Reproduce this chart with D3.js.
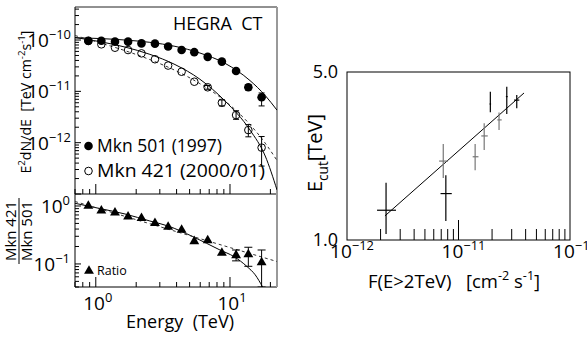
<!DOCTYPE html>
<html>
<head>
<meta charset="utf-8">
<script src="https://cdn.jsdelivr.net/npm/d3@7"></script>
<style>
  body { margin: 0; background: #fff; }
  svg { display: block; font-family: "Open Sans", "Noto Sans", sans-serif; }
  text { white-space: pre; }
</style>
</head>
<body>
<div id="chart"></div>
<script>
// ---- data ----
// energy bins, TeV
var energy = [0.88, 1.10, 1.39, 1.74, 2.19, 2.76, 3.46, 4.36, 5.42, 6.82, 8.70, 11.1, 13.7, 17.2];
// E^2 dN/dE in units of 1e-10 TeV cm^-2 s^-1
var mkn501   = [0.97, 0.97, 0.93, 0.93, 0.86, 0.85, 0.75, 0.64, 0.58, 0.47, 0.38, 0.25, 0.12, 0.077];
var mkn501Lo = [0.97, 0.97, 0.93, 0.93, 0.86, 0.85, 0.75, 0.64, 0.58, 0.47, 0.38, 0.25, 0.105, 0.052];
var mkn501Hi = [0.97, 0.97, 0.93, 0.93, 0.86, 0.85, 0.75, 0.64, 0.58, 0.47, 0.38, 0.25, 0.135, 0.093];
var mkn421   = [0.956, 0.824, 0.708, 0.638, 0.550, 0.422, 0.318, 0.241, 0.154, 0.120, 0.060, 0.0345, 0.0176, 0.0080];
var mkn421Lo = [0.956, 0.824, 0.708, 0.638, 0.550, 0.422, 0.318, 0.241, 0.154, 0.110, 0.052, 0.0285, 0.0130, 0.0035];
var mkn421Hi = [0.956, 0.824, 0.708, 0.638, 0.550, 0.422, 0.318, 0.241, 0.154, 0.130, 0.068, 0.0419, 0.0225, 0.0132];
var ratio    = [1.00, 0.83, 0.766, 0.654, 0.614, 0.503, 0.435, 0.386, 0.246, 0.254, 0.155, 0.141, 0.146, 0.106];
var ratioLo  = [1.00, 0.83, 0.766, 0.654, 0.614, 0.503, 0.435, 0.386, 0.246, 0.254, 0.155, 0.113, 0.091, 0.040];
var ratioHi  = [1.00, 0.83, 0.766, 0.654, 0.614, 0.503, 0.435, 0.386, 0.246, 0.254, 0.155, 0.174, 0.194, 0.174];

// fitted curves, sampled off the figure
var fitE      = [0.70, 1.07, 1.65, 2.53, 3.89, 5.97, 9.18, 14.1, 18.3, 22.4];
var fit501    = [1.109, 1.070, 1.00, 0.902, 0.754, 0.558, 0.352, 0.162, 0.083, 0.043];
var fit421    = [1.119, 0.931, 0.730, 0.526, 0.333, 0.172, 0.065, 0.0176, 0.0055, 0.0012];
var fit421Pl  = [1.224, 0.886, 0.621, 0.415, 0.257, 0.141, 0.065, 0.0225, 0.0098, 0.0045];
var ratioFitE = [0.70, 1.07, 1.65, 2.53, 3.45, 5.29, 8.42, 10.7, 13.4, 15.4, 17.5];
var ratioFit  = [1.113, 0.905, 0.728, 0.551, 0.452, 0.296, 0.174, 0.134, 0.090, 0.065, 0.040];
var ratioPlE  = [0.70, 22.4];
var ratioPl   = [1.196, 0.110];

// right panel: F(E>2TeV) in units of 1e-12 cm^-2 s^-1, Ecut in TeV
var fluxF   = [2.24, 7.3, 7.7, 14.1, 17.0, 19.3, 23.1, 27.1, 33.3];
var fluxLo  = [1.86, 6.7, 6.9, 13.4, 16.0, 19.0, 22.3, 26.6, 31.5];
var fluxHi  = [2.75, 8.05, 8.7, 15.1, 18.3, 19.6, 24.4, 27.6, 35.1];
var ecut    = [1.33, 2.13, 1.56, 2.22, 2.71, 3.68, 3.16, 3.95, 3.82];
var ecutLo  = [1.06, 1.81, 1.20, 1.95, 2.37, 3.40, 2.87, 3.34, 3.53];
var ecutHi  = [1.73, 2.51, 1.86, 2.51, 3.06, 4.14, 3.39, 4.34, 4.01];
var lineF   = [2.19, 38.7];
var lineE   = [1.26, 4.09];

// ---- helpers ----
function logTicks(lo, hi) {
  var out = [];
  for (var k = Math.floor(Math.log10(lo)); k <= Math.ceil(Math.log10(hi)); k++) {
    for (var m = 1; m < 10; m++) {
      var v = m * Math.pow(10, k);
      if (v >= lo * 0.999 && v <= hi * 1.001) out.push(v);
    }
  }
  return out;
}
function isMajor(v) {
  var l = Math.log10(v);
  return Math.abs(l - Math.round(l)) < 1e-6;
}
// text with super/subscripts: parts = [[str, kind]]
function rich(sel, parts, size) {
  var shift = 0;
  parts.forEach(function(p) {
    var target = p[1] === "sup" ? -0.42 * size : p[1] === "sub" ? 0.3 * size : 0;
    sel.append("tspan")
        .attr("dy", target - shift)
        .attr("font-size", p[1] ? size * 0.68 : size)
        .text(p[0]);
    shift = target;
  });
  return sel;
}

var svg = d3.select("#chart").append("svg")
    .attr("width", 587)
    .attr("height", 338);
svg.append("rect").attr("width", 587).attr("height", 338).attr("fill", "#fff");

// ---- left panels ----
var L = 75, R = 277, T = 7, MID = 194, B = 287;

var x = d3.scaleLog().domain([0.70, 22.4]).range([L, R]);
var yTop = d3.scaleLog().domain([1e-13, 4.4e-10]).range([MID, T]);
var yRat = d3.scaleLog().domain([0.040, 1.61]).range([B, MID]);

var defs = svg.append("defs");
defs.append("clipPath").attr("id", "clipTop").append("rect")
    .attr("x", L).attr("y", T).attr("width", R - L).attr("height", MID - T);
defs.append("clipPath").attr("id", "clipBot").append("rect")
    .attr("x", L).attr("y", MID).attr("width", R - L).attr("height", B - MID);

// x ticks (pointing up) on both panel bottoms
var xTickVals = logTicks(0.70, 22.4);
[MID, B].forEach(function(yy) {
  var g = svg.append("g").attr("transform", "translate(0," + yy + ")");
  g.selectAll("line").data(xTickVals).enter().append("line")
      .attr("x1", function(d) { return x(d); })
      .attr("x2", function(d) { return x(d); })
      .attr("y1", 0)
      .attr("y2", function(d) { return isMajor(d) ? -10 : -5; })
      .attr("stroke", "#000").attr("stroke-width", 1);
});

// y ticks (pointing right)
function leftTicks(scale, vals) {
  svg.append("g").selectAll("line").data(vals).enter().append("line")
      .attr("x1", L).attr("x2", function(d) { return L + (isMajor(d) ? 6 : 4); })
      .attr("y1", function(d) { return scale(d); })
      .attr("y2", function(d) { return scale(d); })
      .attr("stroke", "#000").attr("stroke-width", 1);
}
leftTicks(yTop, logTicks(1e-13, 4.4e-10));
leftTicks(yRat, logTicks(0.040, 1.61));

// frames
svg.append("line").attr("x1", L).attr("x2", R).attr("y1", T).attr("y2", T).attr("stroke", "#222");
svg.append("line").attr("x1", L).attr("x2", R).attr("y1", MID).attr("y2", MID).attr("stroke", "#000");
svg.append("line").attr("x1", L).attr("x2", R).attr("y1", B).attr("y2", B).attr("stroke", "#000");
svg.append("line").attr("x1", L).attr("x2", L).attr("y1", T).attr("y2", B).attr("stroke", "#000");
svg.append("line").attr("x1", R).attr("x2", R).attr("y1", T).attr("y2", B)
    .attr("stroke", "#999").attr("stroke-width", 2);

// y tick labels
[[-10, 1e-10], [-11, 1e-11], [-12, 1e-12]].forEach(function(t) {
  rich(svg.append("text").attr("x", 71).attr("y", yTop(t[1]) + 7).attr("text-anchor", "end"),
       [["10", null], [String(t[0]).replace("-", "\u2212"), "sup"]], 19);
});
[[0, 1], [-1, 0.1]].forEach(function(t) {
  rich(svg.append("text").attr("x", 70).attr("y", yRat(t[1]) + 7).attr("text-anchor", "end"),
       [["10", null], [String(t[0]).replace("-", "\u2212"), "sup"]], 19);
});
// x tick labels
[[0, 1], [1, 10]].forEach(function(t) {
  rich(svg.append("text").attr("x", x(t[1]) + 2).attr("y", 310).attr("text-anchor", "middle"),
       [["10", null], [String(t[0]), "sup"]], 19);
});

// axis titles
svg.append("text").attr("x", 180).attr("y", 328).attr("text-anchor", "middle")
    .attr("font-size", 18).text("Energy  (TeV)");
rich(svg.append("text").attr("transform", "translate(31,102) rotate(-90)")
        .attr("text-anchor", "middle"),
     [["E", null], ["2", "sup"], ["dN/dE  [TeV cm", null], ["-2", "sup"], ["s", null], ["-1", "sup"], ["]", null]], 14.2);
var frac = svg.append("g").attr("transform", "translate(19,231) rotate(-90)");
frac.append("text").attr("y", -3).attr("text-anchor", "middle").attr("font-size", 15).text("Mkn 421");
frac.append("line").attr("x1", -33).attr("x2", 33).attr("y1", 0).attr("y2", 0).attr("stroke", "#000");
frac.append("text").attr("y", 13).attr("text-anchor", "middle").attr("font-size", 15).text("Mkn 501");

// curves
var line = d3.line().curve(d3.curveMonotoneX);
var gTop = svg.append("g").attr("clip-path", "url(#clipTop)");
function fitPath(g, es, vs, scale, unit, dashed) {
  g.append("path")
      .attr("d", line(es.map(function(e, i) { return [x(e), scale(vs[i] * unit)]; })))
      .attr("fill", "none")
      .attr("stroke", dashed ? "#333" : "#000")
      .attr("stroke-width", 1)
      .attr("stroke-dasharray", dashed ? "3,3" : null);
}
fitPath(gTop, fitE, fit501, yTop, 1e-10, false);
fitPath(gTop, fitE, fit421, yTop, 1e-10, false);
fitPath(gTop, fitE, fit421Pl, yTop, 1e-10, true);

var gBot = svg.append("g").attr("clip-path", "url(#clipBot)");
fitPath(gBot, ratioFitE, ratioFit, yRat, 1, false);
fitPath(gBot, ratioPlE, ratioPl, yRat, 1, true);

// error bars
function errBars(g, vals, lo, hi, scale, unit, xs, ys, cap) {
  vals.forEach(function(v, i) {
    var y1 = ys(lo[i] * unit), y2 = ys(hi[i] * unit), xx = xs(i);
    if (Math.abs(y1 - y2) < 2) return;
    g.append("line").attr("x1", xx).attr("x2", xx).attr("y1", y1).attr("y2", y2).attr("stroke", "#000");
    [y1, y2].forEach(function(yy) {
      g.append("line").attr("x1", xx - cap).attr("x2", xx + cap).attr("y1", yy).attr("y2", yy).attr("stroke", "#000");
    });
  });
}
function ex(i) { return x(energy[i]); }
errBars(gTop, mkn501, mkn501Lo, mkn501Hi, yTop, 1e-10, ex, yTop, 3);
errBars(gTop, mkn421, mkn421Lo, mkn421Hi, yTop, 1e-10, ex, yTop, 3);
errBars(gBot, ratio, ratioLo, ratioHi, yRat, 1, ex, yRat, 4);

// markers
gTop.selectAll(".m501").data(mkn501).enter().append("circle")
    .attr("cx", function(d, i) { return ex(i); })
    .attr("cy", function(d) { return yTop(d * 1e-10); })
    .attr("r", 4.3).attr("fill", "#000");
gTop.selectAll(".m421").data(mkn421).enter().append("circle")
    .attr("cx", function(d, i) { return ex(i); })
    .attr("cy", function(d) { return yTop(d * 1e-10); })
    .attr("r", 3.8).attr("fill", "none").attr("stroke", "#000").attr("stroke-width", 1);
var tri = d3.symbol().type(d3.symbolTriangle).size(42);
gBot.selectAll(".tri").data(ratio).enter().append("path")
    .attr("d", tri)
    .attr("transform", function(d, i) { return "translate(" + ex(i) + "," + yRat(d) + ")"; })
    .attr("fill", "#000");

// legend + labels
svg.append("text").attr("x", 173).attr("y", 30).attr("font-size", 18).text("HEGRA  CT");
svg.append("circle").attr("cx", 88.5).attr("cy", 146).attr("r", 4.3).attr("fill", "#000");
svg.append("text").attr("x", 97).attr("y", 152).attr("font-size", 18.5)
    .attr("textLength", 125).attr("lengthAdjust", "spacingAndGlyphs").text("Mkn 501 (1997)");
svg.append("circle").attr("cx", 88.5).attr("cy", 171).attr("r", 3.8).attr("fill", "none").attr("stroke", "#000");
svg.append("text").attr("x", 97).attr("y", 177).attr("font-size", 18.5)
    .attr("textLength", 168).attr("lengthAdjust", "spacingAndGlyphs").text("Mkn 421 (2000/01)");
svg.append("path").attr("d", tri).attr("transform", "translate(89,271)").attr("fill", "#000");
svg.append("text").attr("x", 97).attr("y", 275).attr("font-size", 12.5).text("Ratio");

// ---- right panel ----
var RL = 347, RR = 570, RT = 72, RB = 240;
var xF = d3.scaleLog().domain([1e-12, 1e-10]).range([RL, RR]);
var yE = d3.scaleLog().domain([1, 5]).range([RB, RT]);

svg.append("rect").attr("x", RL).attr("y", RT).attr("width", RR - RL).attr("height", RB - RT)
    .attr("fill", "none").attr("stroke", "#000").attr("stroke-width", 1);

var fTicks = logTicks(2e-12, 9e-11);
svg.append("g").selectAll("line").data(fTicks).enter().append("line")
    .attr("x1", function(d) { return xF(d); })
    .attr("x2", function(d) { return xF(d); })
    .attr("y1", RB)
    .attr("y2", function(d) { return RB - (isMajor(d) ? 20 : 11); })
    .attr("stroke", "#000");

[[-12, 1e-12], [-11, 1e-11], [-10, 1e-10]].forEach(function(t) {
  rich(svg.append("text").attr("x", xF(t[1]) + 5).attr("y", 258).attr("text-anchor", "middle"),
       [["10", null], [String(t[0]).replace("-", "\u2212"), "sup"]], 19);
});
svg.append("text").attr("x", 338).attr("y", RT + 6).attr("text-anchor", "end").attr("font-size", 18).text("5.0");
svg.append("text").attr("x", 338).attr("y", RB + 6).attr("text-anchor", "end").attr("font-size", 18).text("1.0");

rich(svg.append("text").attr("x", 368).attr("y", 288),
     [["F(E>2TeV)   [cm", null], ["-2", "sup"], [" s", null], ["-1", "sup"], ["]", null]], 18.5);
rich(svg.append("text").attr("transform", "translate(322,153) rotate(-90)").attr("text-anchor", "middle"),
     [["E", null], ["cut", "sub"], ["[TeV]", null]], 20);

svg.append("path")
    .attr("d", d3.line()(lineF.map(function(f, i) { return [xF(f * 1e-12), yE(lineE[i])]; })))
    .attr("stroke", "#000").attr("fill", "none");

var grey = [1, 3, 4, 6];
fluxF.forEach(function(f, i) {
  var c = grey.indexOf(i) >= 0 ? "#777" : "#000";
  var xx = xF(f * 1e-12), yy = yE(ecut[i]);
  svg.append("line").attr("x1", xF(fluxLo[i] * 1e-12)).attr("x2", xF(fluxHi[i] * 1e-12))
      .attr("y1", yy).attr("y2", yy).attr("stroke", c).attr("stroke-width", 1.2);
  svg.append("line").attr("x1", xx).attr("x2", xx)
      .attr("y1", yE(ecutLo[i])).attr("y2", yE(ecutHi[i])).attr("stroke", c).attr("stroke-width", 1.2);
});
</script>
</body>
</html>
